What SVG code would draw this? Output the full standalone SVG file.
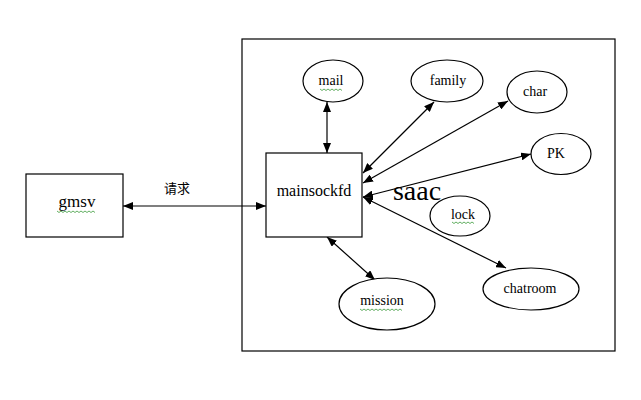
<svg xmlns="http://www.w3.org/2000/svg" width="641" height="400" viewBox="0 0 641 400">
<style>
.box{fill:#fff;stroke:#000;stroke-width:1.2}
.ell{fill:#fff;stroke:#000;stroke-width:1.2}
.t{fill:#000;text-anchor:middle;font-family:'Liberation Serif',serif}
.s14{font-size:14px}
.cn{font-size:13px;fill:#000;text-anchor:middle;font-family:'Noto Sans CJK SC',sans-serif}
.ln{stroke:#000;stroke-width:1.2;fill:none;marker-start:url(#ah);marker-end:url(#ah)}
.sq{stroke:#3a9a3a;stroke-width:0.8;fill:none}
</style>
<defs>
<marker id="ah" viewBox="0 0 10 8" refX="10" refY="4" markerWidth="10" markerHeight="8" markerUnits="userSpaceOnUse" orient="auto-start-reverse">
<path d="M0,0 L10,4 L0,8 z" fill="#000"/>
</marker>
</defs>
<rect width="641" height="400" fill="#fff"/>
<rect id="frame" class="box" x="242" y="39" width="373" height="312"/>
<g id="connectors">
<line class="ln" x1="123" y1="206" x2="266" y2="206"/>
<line class="ln" x1="327" y1="102" x2="327" y2="153"/>
<line class="ln" x1="363" y1="173" x2="434" y2="102"/>
<line class="ln" x1="363" y1="183" x2="508" y2="101"/>
<line class="ln" x1="363" y1="197" x2="531" y2="154"/>
<line class="ln" x1="363" y1="197" x2="506" y2="268"/>
<line class="ln" x1="327" y1="237" x2="375" y2="280"/>
<text class="cn" x="177" y="193">请求</text>
</g>
<g id="gmsv">
<rect class="box" x="26" y="174" width="97" height="63"/>
<text class="t" x="77" y="207" font-size="17">gmsv</text>
<path class="sq" d="M57,211 l2,1.5 l2,-1.5 l2,1.5 l2,-1.5 l2,1.5 l2,-1.5 l2,1.5 l2,-1.5 l2,1.5 l2,-1.5 l2,1.5 l2,-1.5 l2,1.5 l2,-1.5 l2,1.5 l2,-1.5 l2,1.5 l2,-1.5 l2,1.5"/>
</g>
<g id="mainsockfd">
<rect class="box" x="266" y="153" width="96" height="84"/>
<text class="t" x="314" y="196" font-size="16">mainsockfd</text>
</g>
<g id="mail">
<ellipse class="ell" cx="333" cy="81" rx="30" ry="21"/>
<text class="t s14" x="331" y="85">mail</text>
<path class="sq" d="M320,89 l2,1.5 l2,-1.5 l2,1.5 l2,-1.5 l2,1.5 l2,-1.5 l2,1.5 l2,-1.5 l2,1.5 l2,-1.5 l2,1.5"/>
</g>
<g id="family">
<ellipse class="ell" cx="447" cy="81" rx="36" ry="21"/>
<text class="t s14" x="448" y="85">family</text>
</g>
<g id="char">
<ellipse class="ell" cx="537" cy="92" rx="30" ry="21"/>
<text class="t s14" x="535" y="96">char</text>
</g>
<g id="PK">
<ellipse class="ell" cx="561" cy="154" rx="30" ry="20.5"/>
<text class="t s14" x="556" y="158">PK</text>
</g>
<g id="lock">
<ellipse class="ell" cx="460" cy="216" rx="30" ry="20"/>
<text class="t s14" x="463" y="219">lock</text>
<path class="sq" d="M452,222 l2,1.5 l2,-1.5 l2,1.5 l2,-1.5 l2,1.5 l2,-1.5 l2,1.5 l2,-1.5 l2,1.5 l2,-1.5 l2,1.5"/>
</g>
<g id="chatroom">
<ellipse class="ell" cx="531" cy="289" rx="48" ry="21"/>
<text class="t s14" x="530" y="293">chatroom</text>
</g>
<g id="mission">
<ellipse class="ell" cx="387" cy="304" rx="48" ry="26"/>
<text class="t s14" x="382" y="305">mission</text>
<path class="sq" d="M360,309 l2,1.5 l2,-1.5 l2,1.5 l2,-1.5 l2,1.5 l2,-1.5 l2,1.5 l2,-1.5 l2,1.5 l2,-1.5 l2,1.5 l2,-1.5 l2,1.5 l2,-1.5 l2,1.5 l2,-1.5 l2,1.5 l2,-1.5 l2,1.5 l2,-1.5 l2,1.5"/>
</g>
<text class="t" x="417" y="200" font-size="28">saac</text>
</svg>
